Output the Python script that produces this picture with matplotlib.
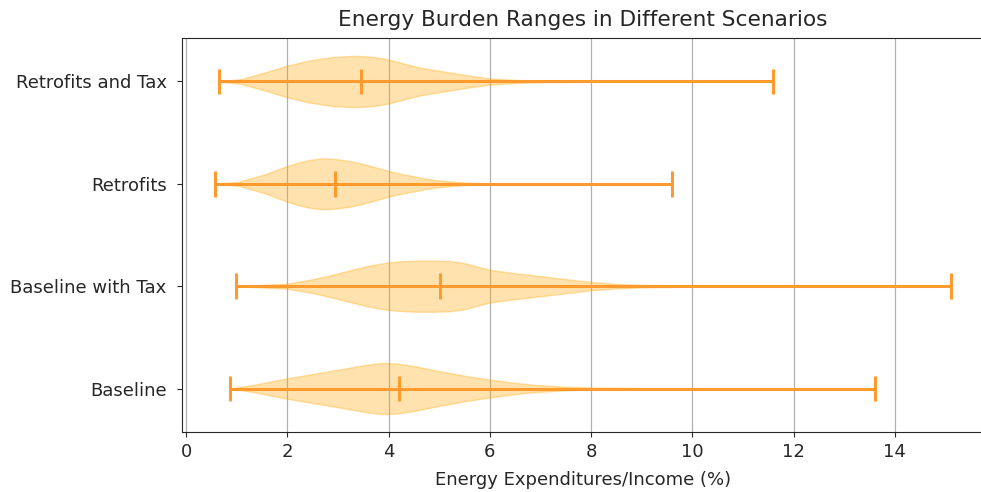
import matplotlib
matplotlib.use("Agg")
import matplotlib.pyplot as plt
import numpy as np

# Scenarios (bottom to top)
scenarios = ["Baseline", "Baseline with Tax", "Retrofits", "Retrofits and Tax"]

# Summary statistics (% of income)
mins = [0.86, 0.98, 0.57, 0.66]
medians = [4.2, 5.02, 2.94, 3.45]
maxs = [13.6, 15.1, 9.6, 11.6]

# Density profiles (relative width)
baseline_x = [0.86, 1.3, 2.0, 2.6, 3.2, 3.5, 3.75, 3.95, 4.2, 4.5, 4.95, 5.5, 6.0, 6.5, 6.9, 7.5, 8.0, 9.0, 10.0, 13.6]
baseline_d = [0.0, 0.13, 0.40, 0.60, 0.80, 0.91, 0.98, 1.0, 0.97, 0.88, 0.70, 0.50, 0.35, 0.22, 0.14, 0.07, 0.04, 0.015, 0.005, 0.0]

tax_x = [0.98, 1.5, 2.0, 2.5, 2.9, 3.3, 3.68, 4.0, 4.3, 4.6, 4.9, 5.2, 5.45, 5.6, 5.8, 6.0, 6.4, 6.85, 7.4, 8.0, 8.5, 9.0, 10.0, 15.1]
tax_d = [0.0, 0.05, 0.1, 0.27, 0.45, 0.65, 0.83, 0.93, 0.98, 1.0, 1.0, 0.98, 0.92, 0.85, 0.74, 0.64, 0.53, 0.43, 0.30, 0.16, 0.09, 0.05, 0.015, 0.0]

retro_x = [0.57, 1.04, 1.57, 2.0, 2.23, 2.45, 2.69, 2.95, 3.22, 3.45, 3.68, 4.0, 4.25, 4.54, 4.75, 5.0, 5.5, 6.0, 7.0, 9.6]
retro_d = [0.0, 0.08, 0.38, 0.70, 0.84, 0.94, 1.0, 0.97, 0.90, 0.80, 0.68, 0.50, 0.39, 0.28, 0.20, 0.13, 0.05, 0.02, 0.005, 0.0]

retro_tax_x = [0.66, 1.1, 1.6, 2.0, 2.43, 2.9, 3.29, 3.5, 3.75, 4.0, 4.25, 4.54, 4.75, 5.0, 5.25, 5.5, 5.75, 6.0, 6.5, 7.0, 8.0, 11.6]
retro_tax_d = [0.0, 0.1, 0.38, 0.62, 0.82, 0.96, 1.0, 0.99, 0.95, 0.86, 0.73, 0.58, 0.50, 0.42, 0.34, 0.26, 0.19, 0.12, 0.06, 0.03, 0.01, 0.0]

profiles = [(baseline_x, baseline_d), (tax_x, tax_d),
            (retro_x, retro_d), (retro_tax_x, retro_tax_d)]

vpstats = []
for (cx, cd), mn, md, mx in zip(profiles, mins, medians, maxs):
    vpstats.append({
        "coords": np.array(cx, dtype=float),
        "vals": np.array(cd, dtype=float),
        "mean": md,
        "median": md,
        "min": mn,
        "max": mx,
    })

positions = np.arange(1, len(scenarios) + 1)

text_color = "#262626"
plt.rcParams.update({
    "font.size": 13,
    "text.color": text_color,
    "axes.labelcolor": text_color,
    "xtick.color": text_color,
    "ytick.color": text_color,
    "axes.edgecolor": "#262626",
})

fig = plt.figure(figsize=(9.81, 4.92), dpi=100)
W, H = 981, 492
ax_left, ax_right, ax_top, ax_bottom = 182, 984, 38, 432
ax = fig.add_axes([ax_left / W, 1 - ax_bottom / H,
                   (ax_right - ax_left) / W, (ax_bottom - ax_top) / H])

line_color = "#ff9a2e"
parts = ax.violin(vpstats, positions=positions, orientation="horizontal",
                  widths=0.5, showmeans=False, showextrema=True,
                  showmedians=True)
for body in parts["bodies"]:
    body.set_facecolor("orange")
    body.set_edgecolor("orange")
    body.set_alpha(0.32)
for key in ("cbars", "cmins", "cmaxes", "cmedians"):
    parts[key].set_color(line_color)
    parts[key].set_linewidth(2.2)

ax.set_yticks(positions)
ax.set_yticklabels(scenarios)
ax.set_xlim(-0.079, 15.76)
ax.set_ylim(0.575, 4.425)
ax.set_xticks([0, 2, 4, 6, 8, 10, 12, 14])
ax.tick_params(axis="y", length=3.6, pad=7.5)
ax.tick_params(axis="x", length=3.6, pad=4.5)
ax.xaxis.grid(True, color="#b0b0b0", linewidth=0.9)
ax.set_axisbelow(True)
ax.set_xlabel("Energy Expenditures/Income (%)", labelpad=7)
ax.set_title("Energy Burden Ranges in Different Scenarios", fontsize=15.6, pad=8.5)

fig.savefig("out.png", dpi=100)
